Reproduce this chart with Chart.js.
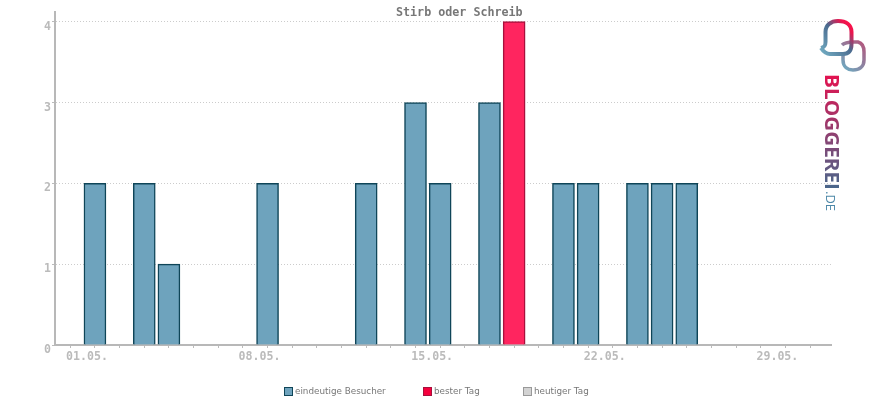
<!DOCTYPE html>
<html>
<head>
<meta charset="utf-8">
<script src="https://cdn.jsdelivr.net/npm/chart.js@4"></script>
<style>
    body { margin: 0; background: #fff; }
    #wrap { position: relative; width: 870px; height: 400px; overflow: hidden; }
    #title { position: absolute; left: 396px; top: 5px; font: bold 11.7px "DejaVu Sans Mono"; color: #777; white-space: pre; }
    #legend { position: absolute; top: 386px; font: 8.8px "DejaVu Sans"; color: #777; white-space: pre; line-height: 11px; }
    #legend i { position: absolute; top: 1px; left: -11px; width: 7px; height: 7px; border: 1px solid; }
    #legend span { position: absolute; top: 0; }
    #logo { position: absolute; left: 800px; top: 0; }
</style>
</head>
<body>
<div id="wrap">
    <canvas id="myChart" width="870" height="400"></canvas>
    <div id="title"></div>
    <div id="legend"></div>
    <svg id="logo" width="70" height="220" viewBox="800 0 70 220">
        <defs>
            <linearGradient id="bubble" gradientUnits="userSpaceOnUse" x1="822" y1="52" x2="852" y2="24">
                <stop offset="0" stop-color="#6fa8bf"/>
                <stop offset="0.55" stop-color="#4a6a8e"/>
                <stop offset="0.85" stop-color="#e8164f"/>
                <stop offset="1" stop-color="#ff0f48"/>
            </linearGradient>
            <linearGradient id="ring" gradientUnits="userSpaceOnUse" x1="843" y1="68" x2="864" y2="44">
                <stop offset="0" stop-color="#6fa8bf"/>
                <stop offset="1" stop-color="#b0597f"/>
            </linearGradient>
            <linearGradient id="word" gradientUnits="userSpaceOnUse" x1="0" y1="0" x2="116" y2="0">
                <stop offset="0" stop-color="#e5114f"/>
                <stop offset="0.55" stop-color="#8a4473"/>
                <stop offset="1" stop-color="#47688c"/>
            </linearGradient>
        </defs>
        <path d="M 842 45 C 846 41 852 42 858 42 C 862 43 864 47 864 52 L 864 60 C 864 67 859 70 853 70 C 848 70 843 67 843 60 L 843 53" fill="none" stroke="url(#ring)" stroke-width="3.5"/>
        <path d="M 821 48 C 825 47 825.5 45 825.5 42 L 825.5 32 C 825.5 25 831 21 838 21 C 846 21 851.5 25 851.5 32 L 851.5 44 C 851.5 50 849 54 843 54 L 830 54 C 826 54 823 51 821 48" fill="none" stroke="url(#bubble)" stroke-width="4"/>
        <text transform="translate(825 74) rotate(90)" font-family="Open Sans" font-weight="700" font-size="20" textLength="116" lengthAdjust="spacingAndGlyphs" fill="url(#word)">BLOGGEREI</text>
        <text transform="translate(826 191) rotate(90)" font-family="Open Sans" font-size="12" textLength="20" lengthAdjust="spacingAndGlyphs" fill="#4d88a8">.DE</text>
    </svg>
</div>
<script>
const chartTitle = 'Stirb oder Schreib'
const visitorDays = [1, 3, 4, 8, 12, 14, 15, 17, 20, 21, 23, 24, 25]
const visitorValues = [2, 2, 1, 2, 2, 3, 2, 3, 2, 2, 2, 2, 2]
const bestDays = [18]
const bestValues = [4]
const tickDays = [0, 1, 2, 3, 4, 5, 6, 7, 8, 9, 10, 11, 12, 13, 14, 15, 16, 17, 18, 19, 20, 21, 22, 23, 24, 25, 26, 27, 28, 29, 30]
const tickLabels = {1: '01.05.', 8: '08.05.', 15: '15.05.', 22: '22.05.', 29: '29.05.'}
const legendNames = ['eindeutige Besucher', 'bester Tag', 'heutiger Tag']

const legendLeft = [295, 434, 534]
const legendFill = ['#6ea3bd', '#f5003d', '#d3d3d3']
const legendEdge = ['#0f4558', '#a8103c', '#999999']

const toPoints = (days, values) => days.map((d, i) => ({x: d, y: values[i]}))

document.getElementById('title').innerText = chartTitle
document.getElementById('legend').innerHTML = legendNames.map((n, i) =>
    `<span style="left:${legendLeft[i]}px"><i style="background:${legendFill[i]};border-color:${legendEdge[i]}"></i>${n}</span>`).join('')

new Chart(document.getElementById('myChart'), {
    type: 'bar',
    data: {
        datasets: [
            {label: legendNames[0], data: toPoints(visitorDays, visitorValues), backgroundColor: '#6ea3bd', borderColor: '#0f4558', borderWidth: 1.5},
            {label: legendNames[1], data: toPoints(bestDays, bestValues), backgroundColor: '#ff255f', borderColor: '#a8103c', borderWidth: 1.5},
            {label: legendNames[2], data: [], backgroundColor: '#d3d3d3', borderColor: '#999999', borderWidth: 1.5}
        ]
    },
    options: {
        responsive: false,
        animation: false,
        devicePixelRatio: 1,
        grouped: false,
        barThickness: 22,
        layout: {padding: {top: 12, right: 39, bottom: 0, left: 0}},
        plugins: {
            legend: {display: false},
            title: {display: false},
            tooltip: {enabled: false}
        },
        scales: {
            x: {
                type: 'linear',
                offset: false,
                min: -0.62,
                max: 30.85,
                afterBuildTicks: scale => { scale.ticks = tickDays.map(v => ({value: v})) },
                afterFit: scale => { scale.height = 55 },
                grid: {offset: false, drawOnChartArea: false, tickColor: '#bbbbbb', tickLength: 3, lineWidth: 1},
                border: {color: '#b8b8b8', width: 2},
                ticks: {
                    autoSkip: false,
                    maxRotation: 0,
                    color: '#bbbbbb',
                    padding: 2,
                    labelOffset: -8,
                    font: {family: 'DejaVu Sans Mono', size: 11.6, weight: 'bold'},
                    callback: v => tickLabels[v] || ''
                }
            },
            y: {
                min: 0,
                max: 4.12,
                afterBuildTicks: scale => { scale.ticks = [0, 1, 2, 3, 4].map(v => ({value: v})) },
                afterFit: scale => { scale.width = 55 },
                grid: {color: '#cccccc', tickColor: '#bbbbbb', tickLength: 3, lineWidth: 1},
                border: {color: '#b8b8b8', width: 2, dash: [1, 2]},
                ticks: {
                    color: '#bbbbbb',
                    padding: 1,
                    labelOffset: 5,
                    font: {family: 'DejaVu Sans Mono', size: 11.6, weight: 'bold'}
                }
            }
        }
    }
})
</script>
</body>
</html>
